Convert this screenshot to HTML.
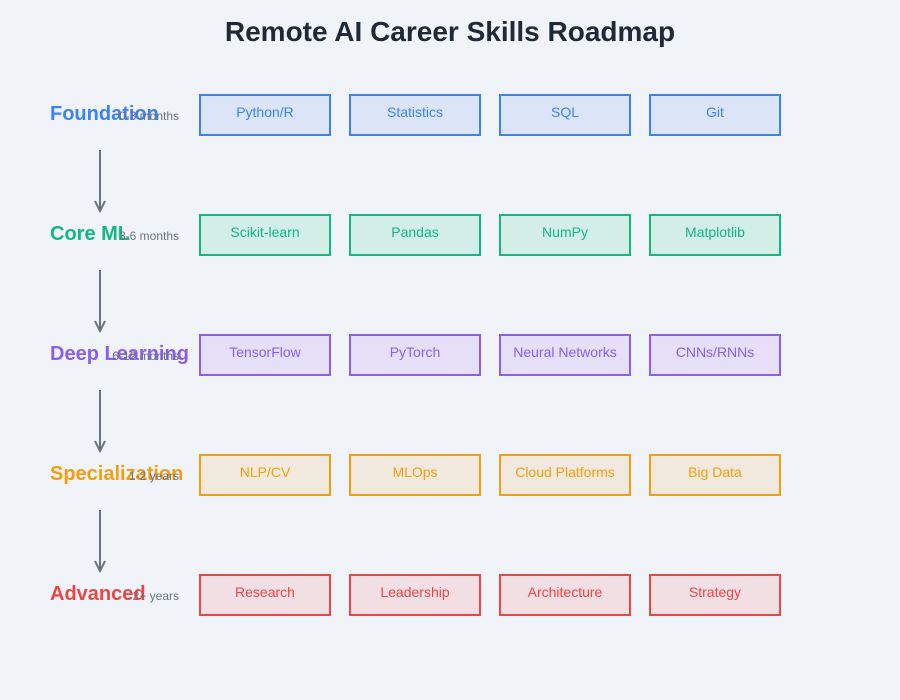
<!DOCTYPE html>
<html><head><meta charset="utf-8"><style>html,body{margin:0;background:#f0f4f9;overflow:hidden;width:900px;height:700px}svg{display:block}</style></head><body>
<svg width="900" height="700" xmlns="http://www.w3.org/2000/svg" font-family="Liberation Sans, sans-serif">
<rect width="900" height="700" fill="#f0f4f9"/>
<text x="450" y="41" text-anchor="middle" font-size="28" font-weight="bold" fill="#1f2937">Remote AI Career Skills Roadmap</text>
<g id="rows">
<text x="50" y="120" font-size="20" font-weight="bold" fill="#3b82f6">Foundation</text>
<text x="179" y="120" text-anchor="end" font-size="12" fill="#6b7280">0-3 months</text>
<g fill="#dbe5f7" stroke="#3b82f6" stroke-width="2">
<rect x="200" y="95" width="130" height="40"/><rect x="350" y="95" width="130" height="40"/><rect x="500" y="95" width="130" height="40"/><rect x="650" y="95" width="130" height="40"/></g>
<g font-size="14" fill="#3b82f6" text-anchor="middle"><text x="265" y="117">Python/R</text><text x="415" y="117">Statistics</text><text x="565" y="117">SQL</text><text x="715" y="117">Git</text></g>
<text x="50" y="240" font-size="20" font-weight="bold" fill="#10b981">Core ML</text>
<text x="179" y="240" text-anchor="end" font-size="12" fill="#6b7280">3-6 months</text>
<g fill="#d3ede7" stroke="#10b981" stroke-width="2">
<rect x="200" y="215" width="130" height="40"/><rect x="350" y="215" width="130" height="40"/><rect x="500" y="215" width="130" height="40"/><rect x="650" y="215" width="130" height="40"/></g>
<g font-size="14" fill="#10b981" text-anchor="middle"><text x="265" y="237">Scikit-learn</text><text x="415" y="237">Pandas</text><text x="565" y="237">NumPy</text><text x="715" y="237">Matplotlib</text></g>
<text x="50" y="360" font-size="20" font-weight="bold" fill="#8b5cf6">Deep Learning</text>
<text x="179" y="360" text-anchor="end" font-size="12" fill="#6b7280">6-12 months</text>
<g fill="#e5e0f7" stroke="#8b5cf6" stroke-width="2">
<rect x="200" y="335" width="130" height="40"/><rect x="350" y="335" width="130" height="40"/><rect x="500" y="335" width="130" height="40"/><rect x="650" y="335" width="130" height="40"/></g>
<g font-size="14" fill="#8b5cf6" text-anchor="middle"><text x="265" y="357">TensorFlow</text><text x="415" y="357">PyTorch</text><text x="565" y="357">Neural Networks</text><text x="715" y="357">CNNs/RNNs</text></g>
<text x="50" y="480" font-size="20" font-weight="bold" fill="#f59e0b">Specialization</text>
<text x="179" y="480" text-anchor="end" font-size="12" fill="#6b7280">1-2 years</text>
<g fill="#f1e9dd" stroke="#f59e0b" stroke-width="2">
<rect x="200" y="455" width="130" height="40"/><rect x="350" y="455" width="130" height="40"/><rect x="500" y="455" width="130" height="40"/><rect x="650" y="455" width="130" height="40"/></g>
<g font-size="14" fill="#f59e0b" text-anchor="middle"><text x="265" y="477">NLP/CV</text><text x="415" y="477">MLOps</text><text x="565" y="477">Cloud Platforms</text><text x="715" y="477">Big Data</text></g>
<text x="50" y="600" font-size="20" font-weight="bold" fill="#ef4444">Advanced</text>
<text x="179" y="600" text-anchor="end" font-size="12" fill="#6b7280">2+ years</text>
<g fill="#f1dfe3" stroke="#ef4444" stroke-width="2">
<rect x="200" y="575" width="130" height="40"/><rect x="350" y="575" width="130" height="40"/><rect x="500" y="575" width="130" height="40"/><rect x="650" y="575" width="130" height="40"/></g>
<g font-size="14" fill="#ef4444" text-anchor="middle"><text x="265" y="597">Research</text><text x="415" y="597">Leadership</text><text x="565" y="597">Architecture</text><text x="715" y="597">Strategy</text></g>
</g>
<g stroke="#6b7280" stroke-width="2" fill="none">
<path d="M100 150V211M95 201L100 211L105 201"/>
<path d="M100 270V331M95 321L100 331L105 321"/>
<path d="M100 390V451M95 441L100 451L105 441"/>
<path d="M100 510V571M95 561L100 571L105 561"/>
</g>
</svg>
</body></html>
